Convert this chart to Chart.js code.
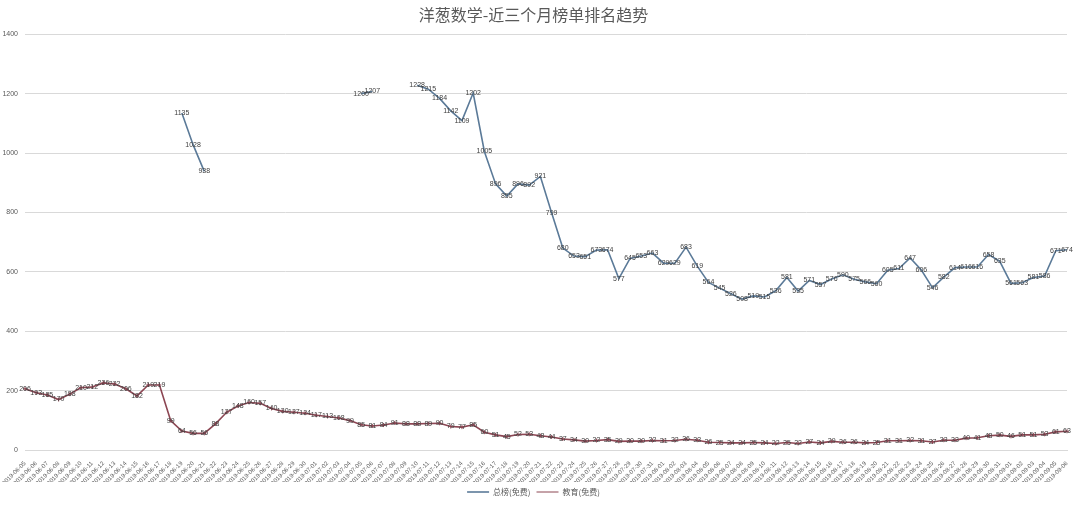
<!DOCTYPE html>
<html>
<head>
<meta charset="utf-8">
<script src="https://cdn.jsdelivr.net/npm/chart.js@4/dist/chart.umd.min.js"></script>
<style>
  html, body { margin: 0; padding: 0; background: #fff; }
  #wrap { width: 1080px; height: 506px; }
</style>
</head>
<body>
<div id="wrap"><canvas id="rankChart"></canvas></div>
<script>
// Data
const dates = [
  '2019-06-05','2019-06-06','2019-06-07','2019-06-08','2019-06-09','2019-06-10','2019-06-11','2019-06-12',
  '2019-06-13','2019-06-14','2019-06-15','2019-06-16','2019-06-17','2019-06-18','2019-06-19','2019-06-20',
  '2019-06-21','2019-06-22','2019-06-23','2019-06-24','2019-06-25','2019-06-26','2019-06-27','2019-06-28',
  '2019-06-29','2019-06-30','2019-07-01','2019-07-02','2019-07-03','2019-07-04','2019-07-05','2019-07-06',
  '2019-07-07','2019-07-08','2019-07-09','2019-07-10','2019-07-11','2019-07-12','2019-07-13','2019-07-14',
  '2019-07-15','2019-07-16','2019-07-17','2019-07-18','2019-07-19','2019-07-20','2019-07-21','2019-07-22',
  '2019-07-23','2019-07-24','2019-07-25','2019-07-26','2019-07-27','2019-07-28','2019-07-29','2019-07-30',
  '2019-07-31','2019-08-01','2019-08-02','2019-08-03','2019-08-04','2019-08-05','2019-08-06','2019-08-07',
  '2019-08-08','2019-08-09','2019-08-10','2019-08-11','2019-08-12','2019-08-13','2019-08-14','2019-08-15',
  '2019-08-16','2019-08-17','2019-08-18','2019-08-19','2019-08-20','2019-08-21','2019-08-22','2019-08-23',
  '2019-08-24','2019-08-25','2019-08-26','2019-08-27','2019-08-28','2019-08-29','2019-08-30','2019-08-31',
  '2019-09-01','2019-09-02','2019-09-03','2019-09-04','2019-09-05','2019-09-06'
];

// overall free chart rank (gaps = not on the chart)
const overallRank = [
  null, null, null, null, null, null, null, null, null, null, null, null, null, null,
  1135, 1028, 938,
  null, null, null, null, null, null, null, null, null, null, null, null, null,
  1200, 1207,
  null, null, null,
  1228, 1215, 1184, 1142, 1109, 1202, 1005, 896, 855, 896, 892, 921, 799, 680,
  653, 651, 673, 674, 577, 645, 653, 663, 629, 629, 683, 619, 564, 545, 526,
  508, 519, 515, 536, 581, 535, 571, 557, 576, 590, 575, 566, 560, 605, 611,
  647, 606, 546, 582, 614, 616, 616, 658, 635, 561, 563, 581, 586, 671, 674
];

// education (free) rank
const eduRank = [
  206, 193, 185, 170, 188, 210, 212, 226, 222, 206, 182, 219, 219, 99, 64, 56,
  56, 88, 127, 148, 160, 157, 140, 130, 127, 124, 117, 113, 108, 99, 85, 81,
  84, 91, 88, 88, 89, 90, 79, 77, 85, 60, 51, 45, 52, 53, 48, 44,
  37, 34, 30, 32, 35, 29, 30, 30, 32, 31, 32, 36, 33, 26, 25, 24,
  24, 25, 24, 22, 25, 22, 27, 24, 29, 26, 26, 24, 25, 31, 31, 32,
  31, 27, 33, 33, 40, 41, 48, 50, 46, 51, 51, 53, 61, 63
];

const yTicks = [0, 200, 400, 600, 800, 1000, 1200, 1400];

// draws the value on every point
const pointLabels = {
  id: 'pointLabels',
  afterDatasetsDraw(chart){
    const ctx = chart.ctx;
    ctx.save();
    ctx.font = '7px "Liberation Sans", Arial, sans-serif';
    ctx.fillStyle = '#404040';
    ctx.textAlign = 'center';
    ctx.textBaseline = 'middle';
    chart.data.datasets.forEach((ds, i)=>{
      const meta = chart.getDatasetMeta(i);
      meta.data.forEach((pt, j)=>{
        const v = ds.data[j];
        if(v === null || v === undefined) return;
        ctx.fillText(String(v), pt.x, pt.y);
      });
    });
    ctx.restore();
  }
};

const ctx = document.getElementById('rankChart').getContext('2d');
new Chart(ctx, {
  type: 'line',
  data: {
    labels: dates,
    datasets: [
      {
        label: '总榜(免费)',
        data: overallRank,
        borderColor: '#5b7a98',
        backgroundColor: '#5b7a98',
        borderWidth: 1.6,
        pointRadius: 0,
        spanGaps: false,
        tension: 0
      },
      {
        label: '教育(免费)',
        data: eduRank,
        borderColor: '#8c4653',
        backgroundColor: '#8c4653',
        borderWidth: 1.6,
        pointStyle: 'cross',
        pointRadius: 2,
        pointBorderWidth: 1,
        tension: 0
      }
    ]
  },
  options: {
    responsive: true,
    maintainAspectRatio: false,
    animation: false,
    layout: { padding: { left: 0, right: 13, top: 0, bottom: 0 } },
    plugins: {
      title: {
        display: true,
        text: '洋葱数学-近三个月榜单排名趋势',
        color: '#595959',
        font: { size: 16, family: '"Noto Sans CJK SC", sans-serif', weight: 'normal' },
        padding: { top: 5, bottom: 10 }
      },
      legend: {
        position: 'bottom',
        labels: {
          usePointStyle: true,
          pointStyle: 'line',
          pointStyleWidth: 22,
          color: '#595959',
          font: { size: 8, family: '"Noto Sans CJK SC", sans-serif' },
          padding: 6
        }
      },
      tooltip: { enabled: false }
    },
    scales: {
      x: {
        grid: { display: false },
        border: { color: '#d9d9d9' },
        ticks: {
          autoSkip: false,
          maxRotation: 45,
          minRotation: 45,
          color: '#595959',
          font: { size: 6, family: '"Liberation Sans", Arial, sans-serif' },
          padding: 2
        },
        afterFit(scale){ scale.height = 32; }
      },
      y: {
        min: 0,
        max: 1400,
        afterBuildTicks(scale){ scale.ticks = yTicks.map(v=>({value: v})); },
        grid: { color: '#d9d9d9', drawTicks: false },
        border: { display: false },
        ticks: {
          color: '#595959',
          font: { size: 7, family: '"Liberation Sans", Arial, sans-serif' },
          padding: 7,
          callback: (v)=> String(v)
        },
        afterFit(scale){ scale.width = 25; }
      }
    }
  },
  plugins: [pointLabels]
});
</script>
</body>
</html>
